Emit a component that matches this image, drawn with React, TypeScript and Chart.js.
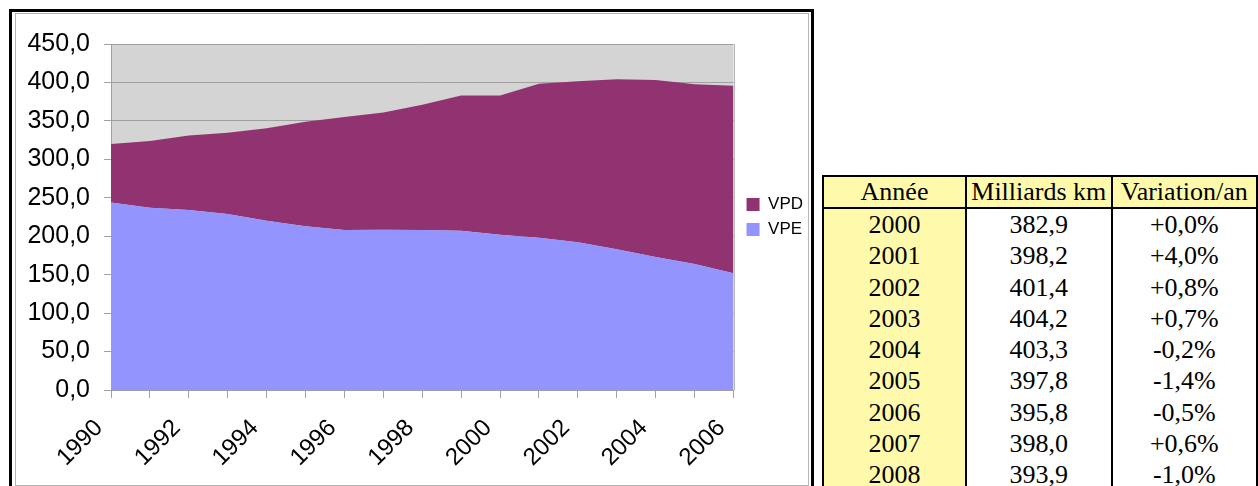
import React, { useEffect, useRef } from "react";
import { Chart, registerables } from "chart.js";

Chart.register(...registerables);

// Chart categories (years on the x axis)
const years = [
  "1990", "1991", "1992", "1993", "1994", "1995", "1996", "1997", "1998",
  "1999", "2000", "2001", "2002", "2003", "2004", "2005", "2006",
];

// Table rows: year, total distance (billion km), yearly change (%)
const tableYears = ["2000", "2001", "2002", "2003", "2004", "2005", "2006", "2007", "2008"];
const tableKm = [382.9, 398.2, 401.4, 404.2, 403.3, 397.8, 395.8, 398.0, 393.9];
const tableVariation = [0.0, 4.0, 0.8, 0.7, -0.2, -1.4, -0.5, 0.6, -1.0];

// Total distance 1990-1999, then the table values for 2000-2006
const totalKm1990s = [320, 324, 331, 334.5, 340.5, 349, 355, 361, 371, 382.9];
const totalKm = [...totalKm1990s, ...tableKm.slice(0, 7)];

// VPE share of the total (lower band)
const vpeKm = [244, 237, 234, 229, 220, 213, 208, 208.5, 208, 207, 202, 198, 192, 183, 173, 164, 152];
// VPD band = total minus VPE
const vpdKm = totalKm.map((t, i) => Math.round((t - vpeKm[i]) * 10) / 10);

const yMax = 450;
const yStep = 50;

const sansFont = '"Liberation Sans", Arial, sans-serif';
const serifFont = '"Liberation Serif", "Times New Roman", serif';

const fmtComma = (v: number) => v.toFixed(1).replace(".", ",");
const fmtVariation = (v: number) => (v >= 0 ? "+" : "-") + fmtComma(Math.abs(v)) + "%";

// Grey plot background, a right-hand frame line, and a small gap before the legend
const plotBackground = {
  id: "plotBackground",
  afterLayout(chart: any) {
    const lg = chart.legend;
    if (lg) {
      lg.left += 5;
      lg.right += 5;
    }
  },
  beforeDraw(chart: any) {
    const { ctx, chartArea } = chart;
    ctx.save();
    ctx.fillStyle = "#d4d4d4";
    ctx.fillRect(chartArea.left, chartArea.top, chartArea.right - chartArea.left, chartArea.bottom - chartArea.top);
    ctx.restore();
  },
  afterDatasetsDraw(chart: any) {
    const { ctx, chartArea } = chart;
    ctx.save();
    ctx.strokeStyle = "#b8b8b8";
    ctx.lineWidth = 1;
    ctx.beginPath();
    ctx.moveTo(Math.round(chartArea.right) + 0.5, chartArea.top);
    ctx.lineTo(Math.round(chartArea.right) + 0.5, chartArea.bottom);
    ctx.stroke();
    ctx.restore();
  },
};

const yellow = "#fffaab";

export default function App() {
  const canvasRef = useRef<HTMLCanvasElement>(null);

  useEffect(() => {
    const chart = new Chart(canvasRef.current as HTMLCanvasElement, {
      type: "line",
      data: {
        labels: years,
        datasets: [
          {
            label: "VPE",
            data: vpeKm,
            backgroundColor: "#9494ff",
            borderColor: "#9494ff",
            borderWidth: 0,
            pointRadius: 0,
            fill: "origin",
          },
          {
            label: "VPD",
            data: vpdKm,
            backgroundColor: "#913370",
            borderColor: "#913370",
            borderWidth: 0,
            pointRadius: 0,
            fill: "-1",
          },
        ],
      },
      options: {
        responsive: false,
        animation: false,
        devicePixelRatio: 1,
        layout: { padding: { top: 27, right: 0, bottom: 0, left: 0 } },
        plugins: {
          legend: {
            position: "right",
            fullSize: false,
            reverse: true,
            labels: {
              boxWidth: 13,
              boxHeight: 13,
              padding: 8,
              color: "#000",
              font: { family: sansFont, size: 17 },
            },
          },
          tooltip: { enabled: false },
        },
        elements: { line: { tension: 0 } },
        scales: {
          x: {
            grid: { drawOnChartArea: false, tickLength: 8, color: "#a0a0a0" },
            border: { color: "#a0a0a0" },
            ticks: {
              autoSkip: false,
              maxRotation: 45,
              minRotation: 45,
              padding: 16,
              labelOffset: -12,
              color: "#000",
              font: { family: sansFont, size: 24 },
              callback: (_v: any, i: number) => (i % 2 === 0 ? years[i] : ""),
            },
            afterFit: (s: any) => {
              s.height = 94;
            },
          },
          y: {
            stacked: true,
            min: 0,
            max: yMax,
            grid: { color: "#a0a0a0", tickLength: 7 },
            border: { color: "#a0a0a0" },
            ticks: {
              stepSize: yStep,
              padding: 14,
              color: "#000",
              font: { family: sansFont, size: 25 },
              callback: (v: any) => fmtComma(Number(v)),
            },
            afterFit: (s: any) => {
              s.width = 95;
            },
          },
        },
      },
      plugins: [plotBackground],
    } as any);
    return () => chart.destroy();
  }, []);

  const cellBase: React.CSSProperties = {
    padding: 0,
    textAlign: "center",
    fontFamily: serifFont,
    fontSize: 26,
    fontWeight: "normal",
    color: "#000",
    whiteSpace: "nowrap",
    overflow: "visible",
  };
  const sep = "2px solid #000";

  return (
    <div
      style={{
        position: "fixed",
        left: 0,
        top: 0,
        width: 1258,
        height: 486,
        overflow: "hidden",
        background: "#fff",
      }}
    >
      <div
        style={{
          position: "absolute",
          left: 9,
          top: 9,
          width: 805,
          height: 520,
          border: "3px solid #000",
          boxSizing: "border-box",
        }}
      />
      <div
        style={{
          position: "absolute",
          left: 15,
          top: 13,
          width: 794,
          height: 473,
          border: "1px solid #b4b4b4",
          boxSizing: "border-box",
        }}
      />
      <canvas
        ref={canvasRef}
        width={792}
        height={469}
        style={{ position: "absolute", left: 16, top: 15, width: 792, height: 469 }}
      />
      <table
        style={{
          position: "absolute",
          left: 822,
          top: 175,
          borderCollapse: "collapse",
          tableLayout: "fixed",
          border: sep,
        }}
      >
        <colgroup>
          <col style={{ width: 146 }} />
          <col style={{ width: 146 }} />
          <col style={{ width: 146 }} />
        </colgroup>
        <thead>
          <tr style={{ height: 31 }}>
            <th style={{ ...cellBase, background: yellow, borderRight: sep, borderBottom: sep, lineHeight: "30px" }}>Année</th>
            <th style={{ ...cellBase, background: yellow, borderRight: sep, borderBottom: sep, lineHeight: "30px" }}>
              Milliards km
            </th>
            <th style={{ ...cellBase, background: yellow, borderBottom: sep, lineHeight: "30px" }}>Variation/an</th>
          </tr>
        </thead>
        <tbody>
          {tableYears.map((y, i) => (
            <tr key={y}>
              <td style={{ ...cellBase, background: yellow, borderRight: sep, lineHeight: "31.3px" }}>{y}</td>
              <td style={{ ...cellBase, background: "#fff", borderRight: sep, lineHeight: "31.3px" }}>
                {fmtComma(tableKm[i])}
              </td>
              <td style={{ ...cellBase, background: "#fff", lineHeight: "31.3px" }}>
                {fmtVariation(tableVariation[i])}
              </td>
            </tr>
          ))}
        </tbody>
      </table>
    </div>
  );
}
